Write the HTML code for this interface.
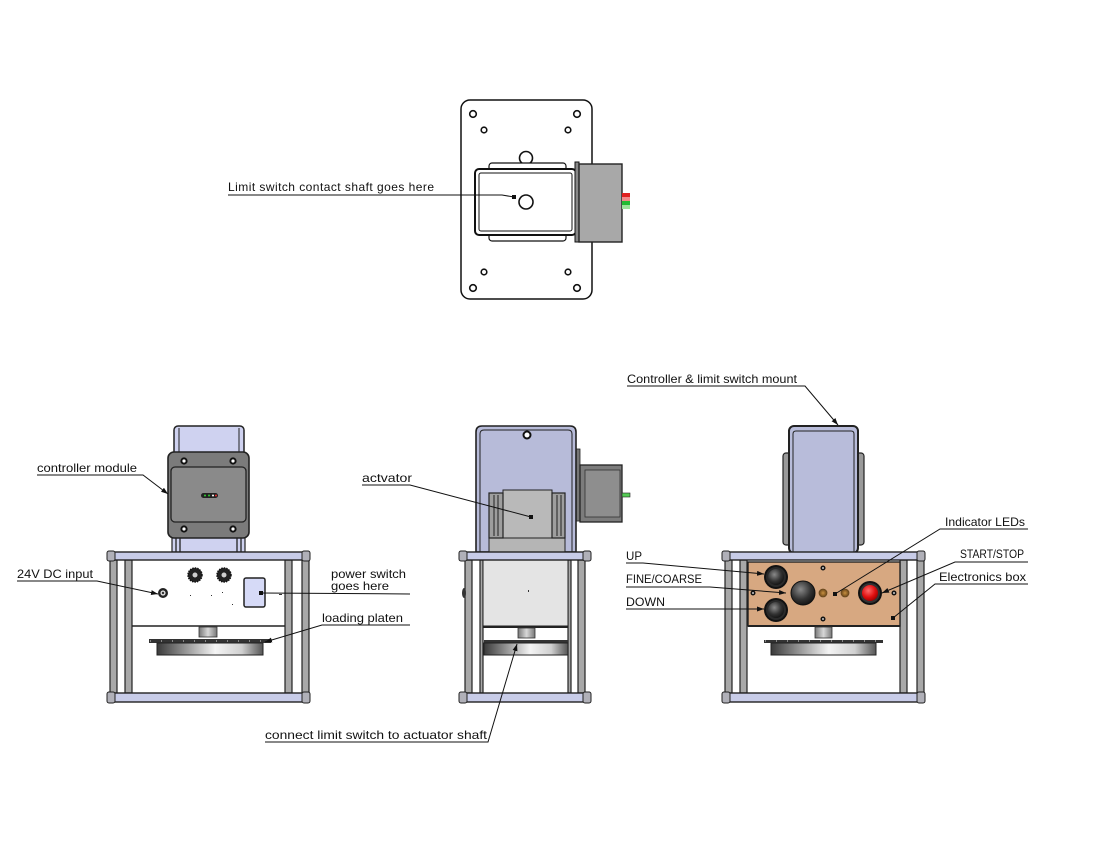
<!DOCTYPE html>
<html><head><meta charset="utf-8">
<style>
html,body{margin:0;padding:0;background:#fff;}
svg{display:block;}
text{font-family:"Liberation Sans",sans-serif;font-size:12px;fill:#111;}
</style></head>
<body>
<svg width="1100" height="849" viewBox="0 0 1100 849" xmlns="http://www.w3.org/2000/svg">
<defs>
<marker id="ar" markerWidth="8" markerHeight="6" refX="7" refY="3" orient="auto" markerUnits="userSpaceOnUse">
<path d="M0,0.5 L7,3 L0,5.5 z" fill="#111"/>
</marker>
<marker id="dt" markerWidth="4" markerHeight="4" refX="2" refY="2" markerUnits="userSpaceOnUse">
<rect x="0" y="0" width="4" height="4" fill="#111"/>
</marker>
<linearGradient id="plat" x1="0" x2="1" y1="0" y2="0">
<stop offset="0" stop-color="#3a3a3a"/><stop offset="0.55" stop-color="#f4f4f4"/><stop offset="0.8" stop-color="#d0d0d0"/><stop offset="1" stop-color="#555"/>
</linearGradient>
<linearGradient id="cyl" x1="0" x2="1" y1="0" y2="0">
<stop offset="0" stop-color="#777"/><stop offset="0.5" stop-color="#d8d8d8"/><stop offset="1" stop-color="#777"/>
</linearGradient>
<radialGradient id="blk" cx="0.4" cy="0.35" r="0.7">
<stop offset="0" stop-color="#8a8a8a"/><stop offset="0.6" stop-color="#333"/><stop offset="1" stop-color="#111"/>
</radialGradient>
<radialGradient id="red" cx="0.4" cy="0.35" r="0.7">
<stop offset="0" stop-color="#ff6a6a"/><stop offset="0.6" stop-color="#e01010"/><stop offset="1" stop-color="#900"/>
</radialGradient>
<radialGradient id="led" cx="0.5" cy="0.5" r="0.5">
<stop offset="0" stop-color="#c89040"/><stop offset="1" stop-color="#6a4518"/>
</radialGradient>
</defs>

<!-- ============ TOP VIEW ============ -->
<rect x="461" y="100" width="131" height="199" rx="9" fill="#fff" stroke="#111" stroke-width="1.5"/>
<g fill="#fff" stroke="#111" stroke-width="1.6">
<circle cx="473" cy="114" r="3.3"/><circle cx="577" cy="114" r="3.3"/>
<circle cx="473" cy="288" r="3.3"/><circle cx="577" cy="288" r="3.3"/>
<circle cx="484" cy="130" r="2.8"/><circle cx="568" cy="130" r="2.8"/>
<circle cx="484" cy="272" r="2.8"/><circle cx="568" cy="272" r="2.8"/>
<circle cx="526" cy="158" r="6.5"/>
</g>
<rect x="489" y="163" width="77" height="8" rx="3" fill="#fff" stroke="#111" stroke-width="1.2"/>
<rect x="489" y="233" width="77" height="8" rx="3" fill="#fff" stroke="#111" stroke-width="1.2"/>
<rect x="475" y="169" width="101" height="66" rx="4" fill="#fff" stroke="#111" stroke-width="2"/>
<rect x="479" y="173" width="93" height="58" rx="2" fill="#fff" stroke="#111" stroke-width="1"/>
<circle cx="526" cy="202" r="7" fill="#fff" stroke="#111" stroke-width="1.6"/>
<rect x="575" y="162" width="4" height="80" fill="#888" stroke="#111" stroke-width="1"/>
<rect x="579" y="164" width="43" height="78" fill="#a8a8a8" stroke="#222" stroke-width="1.4"/>
<rect x="622" y="193" width="8" height="4" fill="#e02020"/>
<rect x="622" y="197" width="8" height="4" fill="#f28a8a"/>
<rect x="622" y="201" width="8" height="4" fill="#22bb33"/>
<rect x="622" y="205" width="8" height="4" fill="#9be39b"/>
<polyline points="228,195 502,195 514,197" fill="none" stroke="#111" stroke-width="1.1" marker-end="url(#dt)"/>
<text x="228" y="191" textLength="206" lengthAdjust="spacing">Limit switch contact shaft goes here</text>

<!-- ============ LEFT VIEW ============ -->
<rect x="174" y="426" width="70" height="32" rx="4" fill="#cfd2f0" stroke="#222" stroke-width="1.5"/>
<line x1="179" y1="428" x2="179" y2="455" stroke="#222"/><line x1="239" y1="428" x2="239" y2="455" stroke="#222"/>
<rect x="172" y="535" width="73" height="17" fill="#cfd2f0" stroke="#222" stroke-width="1.2"/>
<g stroke="#222" stroke-width="1.3"><line x1="176" y1="537" x2="176" y2="552"/><line x1="180" y1="537" x2="180" y2="552"/><line x1="237" y1="537" x2="237" y2="552"/><line x1="241" y1="537" x2="241" y2="552"/></g>
<rect x="168" y="452" width="81" height="86" rx="6" fill="#7b7b7b" stroke="#222" stroke-width="1.6"/>
<rect x="171" y="467" width="75" height="55" rx="4" fill="#8a8a8a" stroke="#222" stroke-width="1.3"/>
<g fill="#fff" stroke="#111" stroke-width="2"><circle cx="184" cy="461" r="2.6"/><circle cx="233" cy="461" r="2.6"/><circle cx="184" cy="529" r="2.6"/><circle cx="233" cy="529" r="2.6"/></g>
<rect x="201" y="493" width="17" height="5" rx="2.5" fill="#222"/>
<circle cx="205" cy="495.5" r="1" fill="#3c3"/><circle cx="209" cy="495.5" r="1" fill="#3c3"/><circle cx="213" cy="495.5" r="1" fill="#fff"/><circle cx="216" cy="495.5" r="1" fill="#e33"/>
<g fill="#a8a8a8" stroke="#222" stroke-width="1.2">
<rect x="110" y="560" width="7" height="133"/><rect x="302" y="560" width="7" height="133"/>
<rect x="125" y="560" width="7" height="133"/><rect x="285" y="560" width="7" height="133"/>
</g>
<rect x="108" y="552" width="201" height="8" fill="#c8cce8" stroke="#222" stroke-width="1.4"/>
<rect x="108" y="693" width="201" height="9" fill="#c8cce8" stroke="#222" stroke-width="1.4"/>
<g fill="#b0b0b8" stroke="#222" stroke-width="1"><rect x="107" y="551" width="8" height="10" rx="2"/><rect x="302" y="551" width="8" height="10" rx="2"/><rect x="107" y="692" width="8" height="11" rx="2"/><rect x="302" y="692" width="8" height="11" rx="2"/></g>
<line x1="132" y1="626" x2="285" y2="626" stroke="#222" stroke-width="1.5"/>
<circle cx="163" cy="593" r="5" fill="#222"/><circle cx="163" cy="593" r="2.6" fill="#ddd"/><circle cx="163" cy="593" r="1.2" fill="#333"/>
<g><circle cx="195" cy="575" r="7" fill="#222" stroke="#111" stroke-width="1.5" stroke-dasharray="1.5 1"/><circle cx="195" cy="575" r="3" fill="#cfcfcf" stroke="#222"/>
<circle cx="224" cy="575" r="7" fill="#222" stroke="#111" stroke-width="1.5" stroke-dasharray="1.5 1"/><circle cx="224" cy="575" r="3" fill="#cfcfcf" stroke="#222"/></g>
<rect x="244" y="578" width="21" height="29" rx="2" fill="#d6daf7" stroke="#222" stroke-width="1.5"/>
<rect x="199" y="627" width="18" height="10" fill="url(#cyl)" stroke="#333" stroke-width="0.8"/>
<rect x="149" y="639" width="122" height="4" fill="#333"/>
<line x1="150" y1="641" x2="270" y2="641" stroke="#ddd" stroke-width="1" stroke-dasharray="1 10"/>
<rect x="157" y="643" width="106" height="12" fill="url(#plat)" stroke="#222" stroke-width="1"/>
<g fill="#333"><rect x="190" y="595" width="1" height="1"/><rect x="211" y="595" width="1" height="1"/><rect x="222" y="592" width="1" height="1"/><rect x="232" y="604" width="1" height="1"/><rect x="279" y="594" width="3" height="1"/></g>

<!-- ============ MIDDLE VIEW ============ -->
<rect x="576" y="449" width="4" height="72" fill="#777" stroke="#222" stroke-width="0.8"/>
<rect x="580" y="465" width="42" height="57" fill="#7c7c7c" stroke="#222" stroke-width="1.3"/>
<rect x="585" y="470" width="35" height="47" fill="#8e8e8e" stroke="#333" stroke-width="0.8"/>
<rect x="622" y="493" width="8" height="4" fill="#55cc55" stroke="#222" stroke-width="0.6"/>
<path d="M476,552 V432 Q476,426 482,426 H570 Q576,426 576,432 V552 Z" fill="#b7bbd9" stroke="#222" stroke-width="1.6"/>
<path d="M480,552 V434 Q480,430 484,430 H568 Q572,430 572,434 V552" fill="none" stroke="#222" stroke-width="1"/>
<circle cx="527" cy="435" r="3.5" fill="#fff" stroke="#111" stroke-width="2"/>
<rect x="489" y="538" width="76" height="14" fill="#b5b5b5" stroke="#222" stroke-width="1"/>
<rect x="503" y="490" width="49" height="48" fill="#b9b9b9" stroke="#222" stroke-width="1"/>
<rect x="489" y="493" width="14" height="45" fill="#9e9e9e" stroke="#222" stroke-width="1.2"/>
<rect x="552" y="493" width="13" height="45" fill="#9e9e9e" stroke="#222" stroke-width="1.2"/>
<g stroke="#222" stroke-width="1"><line x1="494" y1="495" x2="494" y2="536"/><line x1="498" y1="495" x2="498" y2="536"/><line x1="557" y1="495" x2="557" y2="536"/><line x1="561" y1="495" x2="561" y2="536"/></g>
<g fill="#a8a8a8" stroke="#222" stroke-width="1.2">
<rect x="465" y="560" width="7" height="133"/><rect x="578" y="560" width="7" height="133"/>
<rect x="480" y="560" width="3" height="133"/><rect x="568" y="560" width="3" height="133"/>
</g>
<rect x="483" y="560" width="85" height="66" fill="#e4e4e4" stroke="#222" stroke-width="1"/>
<line x1="483" y1="627" x2="568" y2="627" stroke="#222" stroke-width="2"/>
<rect x="460" y="552" width="130" height="8" fill="#c8cce8" stroke="#222" stroke-width="1.4"/>
<rect x="460" y="693" width="130" height="9" fill="#c8cce8" stroke="#222" stroke-width="1.4"/>
<g fill="#b0b0b8" stroke="#222" stroke-width="1"><rect x="459" y="551" width="8" height="10" rx="2"/><rect x="583" y="551" width="8" height="10" rx="2"/><rect x="459" y="692" width="8" height="11" rx="2"/><rect x="583" y="692" width="8" height="11" rx="2"/></g>
<rect x="518" y="628" width="17" height="10" fill="url(#cyl)" stroke="#333" stroke-width="0.8"/>
<rect x="484" y="640" width="84" height="3" fill="#333"/>
<rect x="484" y="643" width="84" height="12" fill="url(#plat)" stroke="#222" stroke-width="1"/>
<ellipse cx="464" cy="593" rx="2" ry="5" fill="#333"/>
<rect x="528" y="590" width="1" height="2" fill="#333"/>

<!-- ============ RIGHT VIEW ============ -->
<rect x="783" y="453" width="8" height="92" rx="3" fill="#9a9a9a" stroke="#222" stroke-width="1.2"/>
<rect x="856" y="453" width="8" height="92" rx="3" fill="#9a9a9a" stroke="#222" stroke-width="1.2"/>
<rect x="789" y="426" width="69" height="127" rx="5" fill="#b8bcda" stroke="#222" stroke-width="2"/>
<path d="M793,552 V434 Q793,431 796,431 H851 Q854,431 854,434 V552" fill="none" stroke="#222" stroke-width="1"/>
<g fill="#a8a8a8" stroke="#222" stroke-width="1.2">
<rect x="725" y="560" width="7" height="133"/><rect x="917" y="560" width="7" height="133"/>
<rect x="740" y="560" width="7" height="133"/><rect x="900" y="560" width="7" height="133"/>
</g>
<rect x="723" y="552" width="201" height="8" fill="#c8cce8" stroke="#222" stroke-width="1.4"/>
<rect x="723" y="693" width="201" height="9" fill="#c8cce8" stroke="#222" stroke-width="1.4"/>
<g fill="#b0b0b8" stroke="#222" stroke-width="1"><rect x="722" y="551" width="8" height="10" rx="2"/><rect x="917" y="551" width="8" height="10" rx="2"/><rect x="722" y="692" width="8" height="11" rx="2"/><rect x="917" y="692" width="8" height="11" rx="2"/></g>
<rect x="748" y="562" width="152" height="64" fill="#d7a881" stroke="#222" stroke-width="1.4"/>
<line x1="748" y1="626" x2="900" y2="626" stroke="#222" stroke-width="2"/>
<circle cx="776" cy="577" r="12" fill="#111"/><circle cx="776" cy="577" r="10" fill="#2a2a2a"/><circle cx="776" cy="577" r="8" fill="url(#blk)"/>
<circle cx="776" cy="610" r="12" fill="#111"/><circle cx="776" cy="610" r="10" fill="#2a2a2a"/><circle cx="776" cy="610" r="8" fill="url(#blk)"/>
<circle cx="803" cy="593" r="12" fill="url(#blk)" stroke="#111" stroke-width="1"/>
<circle cx="870" cy="593" r="12" fill="#111"/><circle cx="870" cy="593" r="10" fill="#333"/><circle cx="870" cy="593" r="8" fill="url(#red)"/>
<circle cx="823" cy="593" r="4" fill="url(#led)" stroke="#6a4a20" stroke-width="0.8"/>
<circle cx="845" cy="593" r="4" fill="url(#led)" stroke="#6a4a20" stroke-width="0.8"/>
<g fill="#111"><circle cx="823" cy="568" r="2.5"/><circle cx="823" cy="619" r="2.5"/><circle cx="753" cy="593" r="2.5"/><circle cx="894" cy="593" r="2.5"/></g>
<g fill="#ccc"><circle cx="823" cy="568" r="1"/><circle cx="823" cy="619" r="1"/><circle cx="753" cy="593" r="1"/><circle cx="894" cy="593" r="1"/></g>
<rect x="815" y="627" width="17" height="11" fill="url(#cyl)" stroke="#333" stroke-width="0.8"/>
<rect x="764" y="640" width="119" height="3" fill="#333"/>
<line x1="765" y1="641" x2="882" y2="641" stroke="#ddd" stroke-width="1" stroke-dasharray="1 10"/>
<rect x="771" y="643" width="105" height="12" fill="url(#plat)" stroke="#222" stroke-width="1"/>

<!-- ============ LABELS & LEADERS ============ -->
<g fill="none" stroke="#111" stroke-width="1">
<polyline points="37,475 143,475 168,494" marker-end="url(#ar)"/>
<polyline points="17,581 97,581 158,594" marker-end="url(#ar)"/>
<polyline points="410,594 261,593" marker-end="url(#dt)"/>
<polyline points="410,625 322,625 265,642" marker-end="url(#ar)"/>
<polyline points="265,742 488,742 517,644" marker-end="url(#ar)"/>
<polyline points="362,485 410,485 531,517" marker-end="url(#dt)"/>
<polyline points="627,386 805,386 838,425" marker-end="url(#ar)"/>
<polyline points="626,563 643,563 764,574" marker-end="url(#ar)"/>
<polyline points="626,587 710,587 786,593" marker-end="url(#ar)"/>
<polyline points="626,609 764,609" marker-end="url(#ar)"/>
<polyline points="1028,529 940,529 835,594" marker-end="url(#dt)"/>
<polyline points="1028,562 955,562 882,593" marker-end="url(#ar)"/>
<polyline points="1028,584 935,584 893,618" marker-end="url(#dt)"/>
</g>
<text x="37" y="472" textLength="100" lengthAdjust="spacingAndGlyphs">controller module</text>
<text x="17" y="578" textLength="76" lengthAdjust="spacingAndGlyphs">24V DC input</text>
<text x="331" y="578" textLength="75" lengthAdjust="spacingAndGlyphs">power switch</text>
<text x="331" y="590" textLength="58" lengthAdjust="spacingAndGlyphs">goes here</text>
<text x="322" y="622" textLength="81" lengthAdjust="spacingAndGlyphs">loading platen</text>
<text x="265" y="739" textLength="222" lengthAdjust="spacingAndGlyphs">connect limit switch to actuator shaft</text>
<text x="362" y="482" textLength="50" lengthAdjust="spacingAndGlyphs">actvator</text>
<text x="627" y="383" textLength="170" lengthAdjust="spacingAndGlyphs">Controller &amp; limit switch mount</text>
<text x="626" y="560" textLength="16" lengthAdjust="spacingAndGlyphs">UP</text>
<text x="626" y="583" textLength="76" lengthAdjust="spacingAndGlyphs">FINE/COARSE</text>
<text x="626" y="606" textLength="39" lengthAdjust="spacingAndGlyphs">DOWN</text>
<text x="945" y="526" textLength="80" lengthAdjust="spacingAndGlyphs">Indicator LEDs</text>
<text x="960" y="558" textLength="64" lengthAdjust="spacingAndGlyphs">START/STOP</text>
<text x="939" y="581" textLength="87" lengthAdjust="spacingAndGlyphs">Electronics box</text>
</svg>
</body></html>
